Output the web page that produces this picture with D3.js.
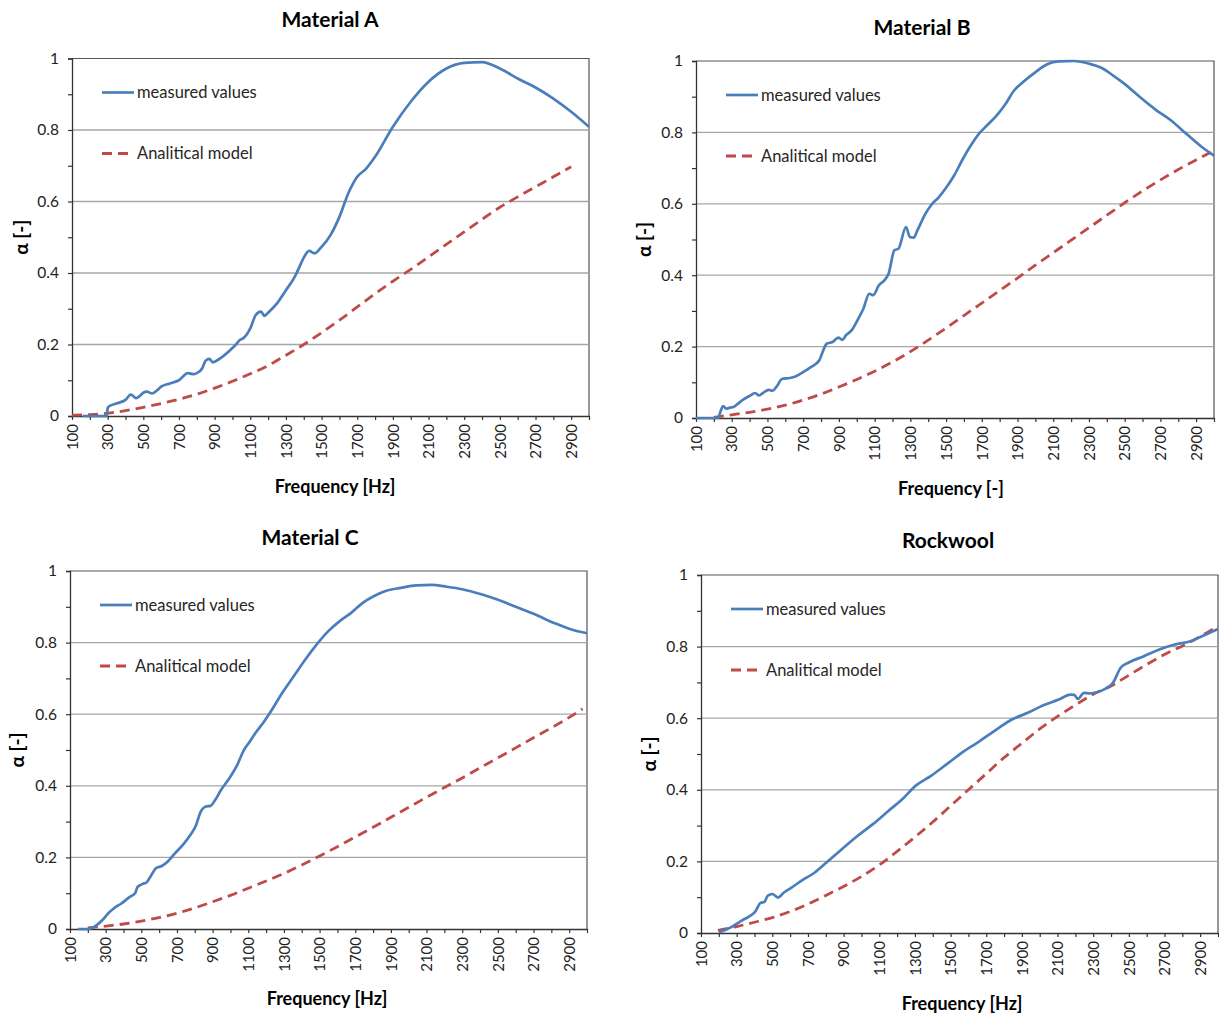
<!DOCTYPE html>
<html>
<head>
<meta charset="utf-8">
<script src="https://cdn.jsdelivr.net/npm/d3@7"></script>
<style>
  body { margin: 0; background: #fff; }
  svg text { font-family: Lato, "Open Sans", "Liberation Sans", sans-serif; }
</style>
</head>
<body>
<svg id="chart" width="1219" height="1016"></svg>
<script>
// ---- Axis ticks ----
const xTickValues = d3.range(100, 3001, 100);
const xTickLabels = [100, 300, 500, 700, 900, 1100, 1300, 1500, 1700, 1900, 2100, 2300, 2500, 2700, 2900];
const yTickValues = [0, 0.1, 0.2, 0.3, 0.4, 0.5, 0.6, 0.7, 0.8, 0.9, 1];
const yTickLabels = ["0", "0.2", "0.4", "0.6", "0.8", "1"];
const gridValues = [0.2, 0.4, 0.6, 0.8];

const seriesNames = ["measured values", "Analitical model"];

// ---- Material A ----
const freqA = [160, 200, 250, 295, 300, 310, 350, 400, 430, 460, 480, 500, 520, 550, 580, 600, 650, 700, 750, 780, 800, 830, 850, 870, 890, 900, 950, 1000, 1020, 1040, 1060, 1100, 1130, 1160, 1180, 1200, 1250, 1300, 1350, 1380, 1400, 1430, 1460, 1500, 1550, 1600, 1650, 1700, 1750, 1800, 1900, 2000, 2100, 2200, 2300, 2400, 2500, 2600, 2700, 2800, 2900, 3000];
const measuredA = [0, 0, 0, 0, 0.022, 0.028, 0.035, 0.045, 0.060, 0.050, 0.056, 0.065, 0.068, 0.063, 0.073, 0.082, 0.091, 0.100, 0.120, 0.117, 0.120, 0.133, 0.155, 0.160, 0.150, 0.152, 0.168, 0.190, 0.200, 0.212, 0.217, 0.245, 0.282, 0.292, 0.280, 0.289, 0.315, 0.352, 0.390, 0.422, 0.443, 0.462, 0.455, 0.473, 0.506, 0.557, 0.623, 0.669, 0.692, 0.725, 0.809, 0.879, 0.935, 0.972, 0.988, 0.990, 0.972, 0.944, 0.919, 0.888, 0.851, 0.809];
const modelFreqA = [100, 200, 300, 400, 500, 600, 700, 800, 900, 1000, 1100, 1200, 1300, 1400, 1500, 1600, 1700, 1800, 1900, 2000, 2100, 2200, 2300, 2400, 2500, 2600, 2700, 2800, 2900];
const modelA = [0.002, 0.004, 0.008, 0.015, 0.024, 0.035, 0.047, 0.061, 0.078, 0.097, 0.118, 0.141, 0.170, 0.200, 0.233, 0.268, 0.305, 0.342, 0.377, 0.410, 0.445, 0.480, 0.515, 0.550, 0.584, 0.613, 0.641, 0.669, 0.697];

// ---- Material B ----
const freqB = [100, 200, 225, 235, 252, 269, 290, 310, 330, 360, 400, 431, 453, 475, 507, 528, 550, 583, 625, 660, 702, 745, 788, 832, 864, 897, 919, 940, 972, 1005, 1037, 1070, 1092, 1124, 1157, 1178, 1211, 1233, 1276, 1297, 1318, 1340, 1384, 1416, 1460, 1503, 1546, 1590, 1633, 1687, 1730, 1784, 1828, 1882, 1936, 2001, 2066, 2131, 2217, 2304, 2369, 2434, 2499, 2585, 2672, 2758, 2845, 2932, 3000];
const measuredB = [0, 0, 0, 0.015, 0.033, 0.026, 0.029, 0.031, 0.038, 0.050, 0.062, 0.070, 0.063, 0.070, 0.079, 0.076, 0.087, 0.110, 0.112, 0.117, 0.129, 0.143, 0.160, 0.208, 0.213, 0.225, 0.219, 0.232, 0.246, 0.275, 0.306, 0.348, 0.344, 0.372, 0.387, 0.404, 0.470, 0.474, 0.535, 0.507, 0.505, 0.526, 0.572, 0.596, 0.619, 0.647, 0.680, 0.722, 0.759, 0.798, 0.820, 0.848, 0.876, 0.918, 0.943, 0.969, 0.991, 0.999, 1.000, 0.992, 0.981, 0.960, 0.936, 0.899, 0.864, 0.834, 0.796, 0.759, 0.735];
const modelFreqB = [200, 300, 400, 500, 600, 700, 800, 900, 1000, 1100, 1200, 1300, 1400, 1500, 1600, 1700, 1800, 1900, 2000, 2100, 2200, 2300, 2400, 2500, 2600, 2700, 2800, 2900, 3000];
const modelB = [0.002, 0.009, 0.016, 0.025, 0.036, 0.050, 0.067, 0.087, 0.108, 0.131, 0.157, 0.186, 0.218, 0.252, 0.287, 0.322, 0.357, 0.392, 0.428, 0.463, 0.498, 0.533, 0.568, 0.603, 0.636, 0.667, 0.696, 0.723, 0.749];

// ---- Material C ----
const freqC = [145, 200, 218, 250, 282, 315, 347, 390, 433, 465, 480, 508, 529, 551, 583, 615, 647, 690, 733, 776, 808, 830, 862, 888, 915, 948, 991, 1034, 1077, 1109, 1141, 1184, 1227, 1291, 1355, 1420, 1484, 1549, 1613, 1677, 1742, 1806, 1870, 1956, 2042, 2128, 2214, 2300, 2407, 2493, 2600, 2707, 2815, 2922, 3000];
const measuredC = [0, 0, 0.002, 0.011, 0.025, 0.044, 0.058, 0.072, 0.089, 0.100, 0.118, 0.126, 0.130, 0.146, 0.170, 0.176, 0.188, 0.212, 0.235, 0.263, 0.291, 0.324, 0.342, 0.344, 0.361, 0.389, 0.419, 0.454, 0.501, 0.524, 0.548, 0.576, 0.608, 0.660, 0.706, 0.753, 0.795, 0.832, 0.860, 0.883, 0.911, 0.930, 0.944, 0.953, 0.960, 0.961, 0.956, 0.949, 0.935, 0.921, 0.900, 0.879, 0.855, 0.835, 0.826];
const modelFreqC = [200, 300, 400, 500, 600, 700, 800, 900, 1000, 1100, 1200, 1300, 1400, 1500, 1600, 1700, 1800, 1900, 2000, 2100, 2200, 2300, 2400, 2500, 2600, 2700, 2800, 2900, 2975];
const modelC = [0.003, 0.008, 0.014, 0.022, 0.032, 0.044, 0.059, 0.076, 0.094, 0.114, 0.134, 0.155, 0.179, 0.204, 0.230, 0.257, 0.284, 0.312, 0.340, 0.368, 0.395, 0.422, 0.450, 0.478, 0.506, 0.534, 0.562, 0.591, 0.615];

// ---- Rockwool ----
const freqD = [200, 239, 282, 326, 369, 402, 434, 456, 474, 500, 532, 565, 608, 673, 738, 804, 890, 977, 1064, 1151, 1238, 1303, 1390, 1477, 1564, 1651, 1759, 1846, 1933, 2020, 2107, 2172, 2193, 2215, 2248, 2280, 2324, 2367, 2411, 2454, 2497, 2584, 2671, 2758, 2845, 2910, 3000];
const measuredD = [0.002, 0.009, 0.020, 0.034, 0.046, 0.058, 0.084, 0.087, 0.104, 0.109, 0.099, 0.113, 0.127, 0.149, 0.169, 0.197, 0.234, 0.271, 0.304, 0.341, 0.378, 0.411, 0.439, 0.471, 0.504, 0.532, 0.569, 0.597, 0.615, 0.636, 0.652, 0.666, 0.665, 0.654, 0.671, 0.669, 0.673, 0.682, 0.699, 0.741, 0.755, 0.773, 0.792, 0.806, 0.815, 0.829, 0.849];
const modelFreqD = [195, 300, 400, 500, 600, 700, 800, 900, 1000, 1100, 1200, 1300, 1400, 1500, 1600, 1700, 1800, 1900, 2000, 2100, 2200, 2300, 2400, 2500, 2600, 2700, 2800, 2900, 3000];
const modelD = [0.007, 0.018, 0.030, 0.043, 0.060, 0.081, 0.105, 0.130, 0.158, 0.190, 0.228, 0.268, 0.310, 0.355, 0.400, 0.445, 0.490, 0.530, 0.570, 0.605, 0.637, 0.667, 0.690, 0.720, 0.750, 0.778, 0.802, 0.828, 0.858];

// ---- Layout of the four panels ----
const panels = [
  { title: "Material A", xTitle: "Frequency [Hz]", mf: freqA, mv: measuredA, af: modelFreqA, av: modelA,
    l: 72, r: 589, t: 58.5, b: 416, titleX: 330, titleY: 27, xTitleX: 335, xTitleY: 493, yTitleX: 28 },
  { title: "Material B", xTitle: "Frequency [-]", mf: freqB, mv: measuredB, af: modelFreqB, av: modelB,
    l: 696, r: 1214, t: 61, b: 418, titleX: 922, titleY: 35, xTitleX: 951, xTitleY: 495, yTitleX: 651 },
  { title: "Material C", xTitle: "Frequency [Hz]", mf: freqC, mv: measuredC, af: modelFreqC, av: modelC,
    l: 70, r: 587, t: 571, b: 929, titleX: 310, titleY: 545, xTitleX: 327, xTitleY: 1005, yTitleX: 24 },
  { title: "Rockwool", xTitle: "Frequency [Hz]", mf: freqD, mv: measuredD, af: modelFreqD, av: modelD,
    l: 701, r: 1218, t: 575, b: 933, titleX: 948, titleY: 548, xTitleX: 962, xTitleY: 1010, yTitleX: 656 }
];

const BLUE = "#4a7ebb";
const RED = "#be4b48";
const svg = d3.select("#chart");

panels.forEach(p => {
  const g = svg.append("g");
  const x = d3.scaleLinear().domain([100, 3000]).range([p.l, p.r]);
  const y = d3.scaleLinear().domain([0, 1]).range([p.b, p.t]);

  // plot frame (top and right edges)
  g.append("path")
    .attr("d", `M${p.l},${y(1)}H${p.r}V${p.b}`)
    .attr("fill", "none").attr("stroke", "#555").attr("stroke-width", 1.2);

  // horizontal gridlines
  g.selectAll(".grid").data(gridValues).join("line")
    .attr("x1", p.l).attr("x2", p.r)
    .attr("y1", d => y(d)).attr("y2", d => y(d))
    .attr("stroke", "#a6a6a6").attr("stroke-width", 1.3);

  // y axis
  const yAxis = d3.axisLeft(y).tickValues(yTickValues).tickSize(4).tickPadding(9)
    .tickFormat(d => { const s = d3.format("~g")(+d.toFixed(1)); return yTickLabels.includes(s) ? s : ""; });
  const ya = g.append("g").attr("transform", `translate(${p.l},0)`).call(yAxis);
  ya.select(".domain").attr("stroke", "#333").attr("stroke-width", 1.3);
  ya.selectAll(".tick line").attr("stroke", "#333").attr("stroke-width", 1.2);
  ya.selectAll("text").attr("font-size", 15.5).attr("fill", "#222");

  // x axis with rotated labels
  const xAxis = d3.axisBottom(x).tickValues(xTickValues).tickSize(4).tickSizeOuter(0)
    .tickFormat(d => xTickLabels.includes(d) ? String(d) : "");
  const xa = g.append("g").attr("transform", `translate(0,${p.b})`).call(xAxis);
  xa.select(".domain").attr("stroke", "#333").attr("stroke-width", 1.3);
  xa.selectAll(".tick line").attr("stroke", "#333").attr("stroke-width", 1.2);
  xa.selectAll("text")
    .attr("font-size", 15).attr("fill", "#222")
    .attr("transform", "rotate(-90)")
    .attr("text-anchor", "end")
    .attr("x", -8).attr("y", 0).attr("dy", "0.35em");

  // data lines
  const line = d3.line().x(d => x(d[0])).y(d => y(d[1])).curve(d3.curveMonotoneX);
  g.append("path")
    .datum(p.af.map((f, i) => [f, p.av[i]]))
    .attr("d", line).attr("fill", "none")
    .attr("stroke", RED).attr("stroke-width", 2.8).attr("stroke-dasharray", "10,6");
  g.append("path")
    .datum(p.mf.map((f, i) => [f, p.mv[i]]))
    .attr("d", line).attr("fill", "none")
    .attr("stroke", BLUE).attr("stroke-width", 2.7).attr("stroke-linejoin", "round");

  // legend
  const lx = p.l + 30;
  const leg = [
    { name: seriesNames[0], color: BLUE, dash: null, yy: p.t + 34 },
    { name: seriesNames[1], color: RED, dash: "10,6", yy: p.t + 95 }
  ];
  leg.forEach(e => {
    g.append("line").attr("x1", lx).attr("x2", lx + 32).attr("y1", e.yy).attr("y2", e.yy)
      .attr("stroke", e.color).attr("stroke-width", e.dash ? 2.8 : 2.7)
      .attr("stroke-dasharray", e.dash);
    g.append("text").attr("x", lx + 35).attr("y", e.yy).attr("dy", "0.35em")
      .attr("font-size", 16.5).attr("fill", "#262626").text(e.name);
  });

  // titles
  g.append("text").attr("x", p.titleX).attr("y", p.titleY).attr("text-anchor", "middle")
    .attr("font-size", 21).attr("font-weight", "bold").attr("fill", "#000").text(p.title);
  g.append("text").attr("x", p.xTitleX).attr("y", p.xTitleY).attr("text-anchor", "middle")
    .attr("font-size", 18).attr("font-weight", "bold").attr("fill", "#000").text(p.xTitle);
  g.append("text")
    .attr("transform", `translate(${p.yTitleX},${(p.t + p.b) / 2}) rotate(-90)`)
    .attr("text-anchor", "middle")
    .attr("font-size", 19).attr("font-weight", "bold").attr("fill", "#000").text("α [-]");
});
</script>
</body>
</html>
